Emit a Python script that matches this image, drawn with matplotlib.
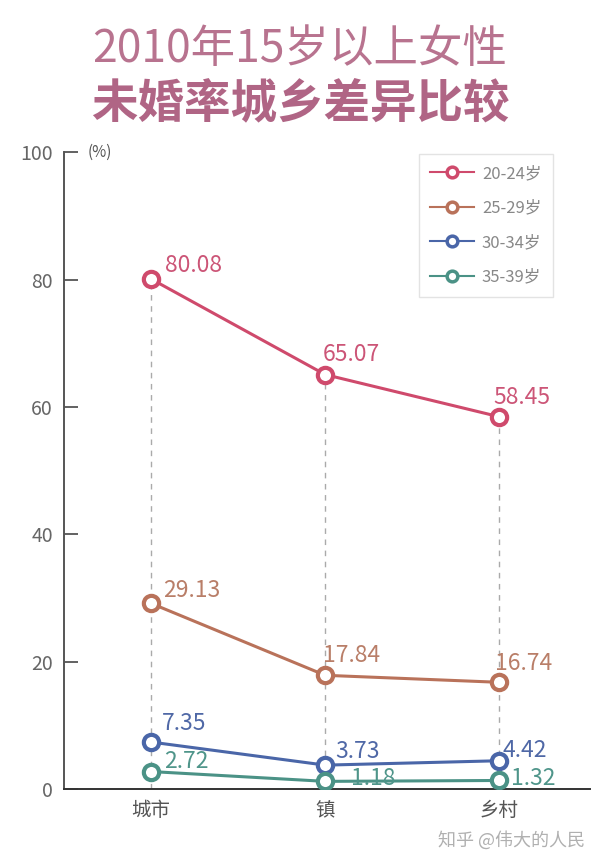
import matplotlib
matplotlib.use('Agg')
import matplotlib.pyplot as plt

plt.rcParams['font.family'] = ['Noto Sans CJK SC', 'DejaVu Sans']

areas = ['城市', '镇', '乡村']
groups = ['20-24岁', '25-29岁', '30-34岁', '35-39岁']
rate_20_24 = [80.08, 65.07, 58.45]
rate_25_29 = [29.13, 17.84, 16.74]
rate_30_34 = [7.35, 3.73, 4.42]
rate_35_39 = [2.72, 1.18, 1.32]
yticks = [0, 20, 40, 60, 80, 100]

series = [rate_20_24, rate_25_29, rate_30_34, rate_35_39]
line_colors = ['#cf4a6c', '#b9725a', '#4a66a8', '#4b9286']
text_colors = ['#cc5577', '#b97e68', '#4f68a6', '#4f958a']
# label offsets in pixels (left edge dx, centre dy) for each value
offsets = [
    [(14, 14), (-3, 20), (-6, 19)],
    [(12, 13), (-2, 20), (-4, 19)],
    [(11, 19), (10, 14), (3, 10)],
    [(13, 10), (26, 3), (12, 2)],
]

fig = plt.figure(figsize=(6, 8.65), dpi=100)
ax = fig.add_axes([0.107, 0.088, 0.876, 0.736])

x = list(range(len(areas)))

# dashed guides from the top series down to the axis
for i in x:
    ax.plot([i, i], [0, rate_20_24[i]], color='#aaaaaa', ls=(0, (4, 4)), lw=1, zorder=1)

handles = []
for vals, lc, tc, offs, name in zip(series, line_colors, text_colors, offsets, groups):
    h, = ax.plot(x, vals, color=lc, lw=2.2, marker='o', ms=11, mfc='white',
                 mec=lc, mew=3, zorder=3, label=name)
    handles.append(h)
    for i, v in enumerate(vals):
        dx, dy = offs[i]
        ax.annotate(f'{v:.2f}', (i, v), xytext=(dx * 0.72, dy * 0.72),
                    textcoords='offset points', ha='left', va='center',
                    fontsize=16.5, color=tc, zorder=4)

ax.set_xlim(-0.5, 2.52)
ax.set_ylim(0, 100)
ax.set_yticks(yticks)
ax.set_xticks(x)
ax.set_xticklabels(areas, fontsize=14, color='#555555')
ax.tick_params(axis='x', length=0, pad=8)
ax.tick_params(axis='y', direction='in', length=10, width=1.3, colors='#555555',
               labelsize=14, labelcolor='#666666', pad=8)
for s in ['top', 'right']:
    ax.spines[s].set_visible(False)
ax.spines['left'].set_color('#555555')
ax.spines['left'].set_linewidth(1.4)
ax.spines['bottom'].set_color('#333333')
ax.spines['bottom'].set_linewidth(1.4)

ax.text(0.045, 1.0, '(%)', transform=ax.transAxes, fontsize=11, color='#555555',
        ha='left', va='center')

leg = ax.legend(handles=handles, loc='upper right', bbox_to_anchor=(0.93, 0.998),
                borderaxespad=0, fontsize=12, frameon=True, fancybox=False,
                labelspacing=1.05, handlelength=2.6, handletextpad=0.5,
                borderpad=0.7, markerscale=0.7)
leg.get_frame().set_edgecolor('#dddddd')
for t in leg.get_texts():
    t.set_color('#888888')
for lh in leg.get_lines():
    lh.set_linewidth(1.5)
    lh.set_markeredgewidth(2.5)

fig.text(0.5, 0.943, '2010年15岁以上女性', ha='center', va='center',
         fontsize=32, color='#b8738f')
fig.text(0.5, 0.881, '未婚率城乡差异比较', ha='center', va='center',
         fontsize=33.5, fontweight='bold', color='#b06585')

fig.text(0.975, 0.028, '知乎 @伟大的人民', ha='right', va='center',
         fontsize=13, color='#b0b0b0')

fig.savefig('out.png', dpi=100)
